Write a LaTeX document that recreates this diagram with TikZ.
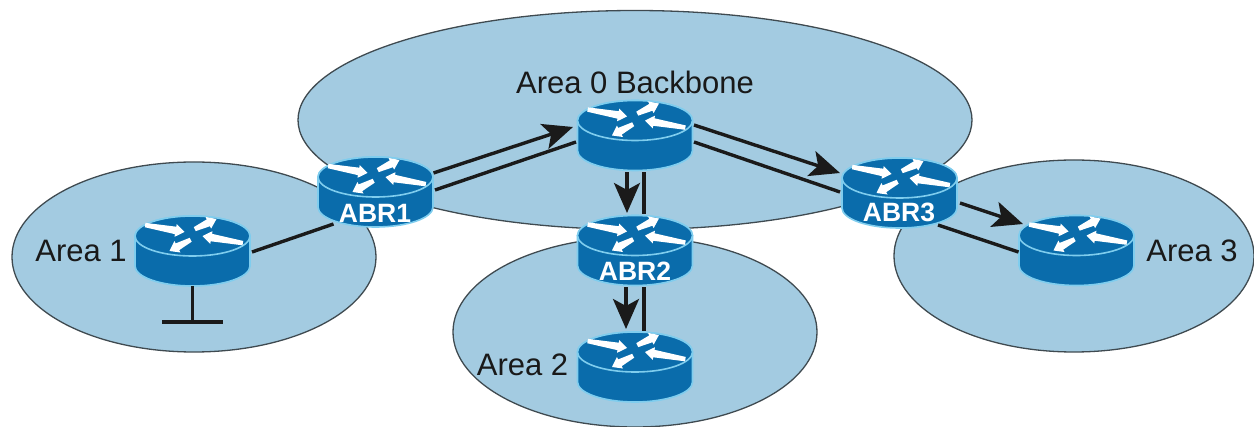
\documentclass[tikz,border=0pt]{standalone}
\usepackage{fontspec}
\setmainfont{Liberation Sans}
\usetikzlibrary{shapes.geometric,arrows.meta,calc}
\definecolor{areafill}{HTML}{A3CBE1}
\definecolor{routerblue}{HTML}{0A6CAB}
\definecolor{routeredge}{HTML}{7FCDEE}
\definecolor{areaedge}{HTML}{3F4A50}
\definecolor{linkcol}{HTML}{1A1A1A}
\newcommand{\flowshape}[3]{%
  \fill[white,shift={(#1)},rotate=#2] (0,0) -- (-9,-6.5) -- (-9,-3.8) -- (-#3,-2.2) -- (-#3,2.2) -- (-9,3.8) -- (-9,6.5) -- cycle;}
\tikzset{
  x=1pt,y=-1pt,
  area/.style={ellipse,draw=areaedge,fill=areafill,line width=1.3pt,inner sep=0pt},
  lab/.style={font=\fontsize{31}{31}\selectfont,text=black!90,inner sep=0pt},
  abr/.style={font=\fontsize{26.5}{26.5}\selectfont\bfseries,text=white,inner sep=0pt},
  link/.style={draw=linkcol,line width=3.4pt},
  linkarrow/.style={link,-{Stealth[length=30pt,width=26pt,inset=7pt]}},
  router/.pic={
    \node[minimum width=116pt,minimum height=70pt,inner sep=0pt,outer sep=0pt] (-box) at (0,0) {};
    \path[fill=routerblue,draw=routeredge,line width=1.6pt]
      (-57.5,-15) -- (-57.5,15) arc[start angle=180,end angle=0,x radius=57.5,y radius=20]
      -- (57.5,-15) arc[start angle=0,end angle=-180,x radius=57.5,y radius=20] -- cycle;
    \path[fill=routerblue,draw=routeredge,line width=1.6pt] (0,-15) ellipse[x radius=57.5,y radius=20];
    \flowshape{-8,-19}{-10}{40}
    \flowshape{24,-32}{25}{24}
    \flowshape{10,-15}{170}{41}
    \flowshape{-23,0}{208}{24}
  }
}
\begin{document}
\begin{tikzpicture}
\useasboundingbox (0,0) rectangle (1254,427);
% areas
\node[area,minimum width=364pt,minimum height=190pt] (area1) at (194,257) {};
\node[area,minimum width=364pt,minimum height=190pt] (area2) at (635,332) {};
\node[area,minimum width=360pt,minimum height=192pt] (area3) at (1074,256) {};
\node[area,minimum width=674pt,minimum height=219pt] (area0) at (635,120) {};
% routers
\pic (rz) at (635,135.5) {router};
\pic (abri) at (375.5,192) {router};
\pic (abrii) at (635,250.5) {router};
\pic (abriii) at (899.5,193) {router};
\pic (ri) at (192.5,251) {router};
\pic (rii) at (635,367) {router};
\pic (riii) at (1076.5,250.5) {router};
% labels
\node[lab] (l0) at (635,82) {Area 0 Backbone};
\node[lab] (l1) at (81,251) {Area 1};
\node[lab] (l2) at (522.5,365) {Area 2};
\node[lab] (l3) at (1192,251) {Area 3};
\node[abr] (a1) at (375,213) {ABR1};
\node[abr] (a2) at (635,271) {ABR2};
\node[abr] (a3) at (899,212) {ABR3};
% connectors
\draw[linkarrow] ([yshift=19pt]abri-box.east) -- ([yshift=8.5pt,xshift=-4pt]rz-box.west);
\draw[link] ([yshift=2pt,xshift=1.5pt]abri-box.east) -- ([yshift=-6.5pt,xshift=-1pt]rz-box.west);
\draw[linkarrow] ([yshift=10.5pt,xshift=1pt]rz-box.east) -- ([yshift=20pt,xshift=-1.5pt]abriii-box.west);
\draw[link] ([yshift=-6.5pt,xshift=1pt]rz-box.east) -- ([yshift=1pt,xshift=-1.5pt]abriii-box.west);
\draw[linkarrow] ([xshift=-8pt,yshift=-2pt]rz-box.south) -- ([xshift=-8pt,yshift=2.5pt]abrii-box.north);
\draw[link] ([xshift=9pt,yshift=-2pt]rz-box.south) -- ([xshift=9pt,yshift=1.5pt]abrii-box.north);
\draw[linkarrow] ([xshift=-9pt,yshift=-2pt]abrii-box.south) -- ([xshift=-9pt,yshift=3pt]rii-box.north);
\draw[link] ([xshift=9pt,yshift=-2pt]abrii-box.south) -- ([xshift=9pt,yshift=1pt]rii-box.north);
\draw[linkarrow] ([yshift=-10pt,xshift=2.5pt]abriii-box.east) -- ([yshift=26.5pt,xshift=4.5pt]riii-box.west);
\draw[link] ([yshift=-32pt,xshift=-19.5pt]abriii-box.east) -- ([yshift=-1.5pt]riii-box.west);
\draw[link] ([yshift=-1pt,xshift=1.5pt]ri-box.east) -- ([yshift=-32pt,xshift=16pt]abri-box.west);
\coordinate (barleft) at (162,322);
\coordinate (barright) at (223,322);
\coordinate (stemend) at (ri-box.south |- barleft);
\draw[link] (ri-box.south) -- (stemend);
\draw[link] (barleft) -- (barright);
\end{tikzpicture}
\end{document}
